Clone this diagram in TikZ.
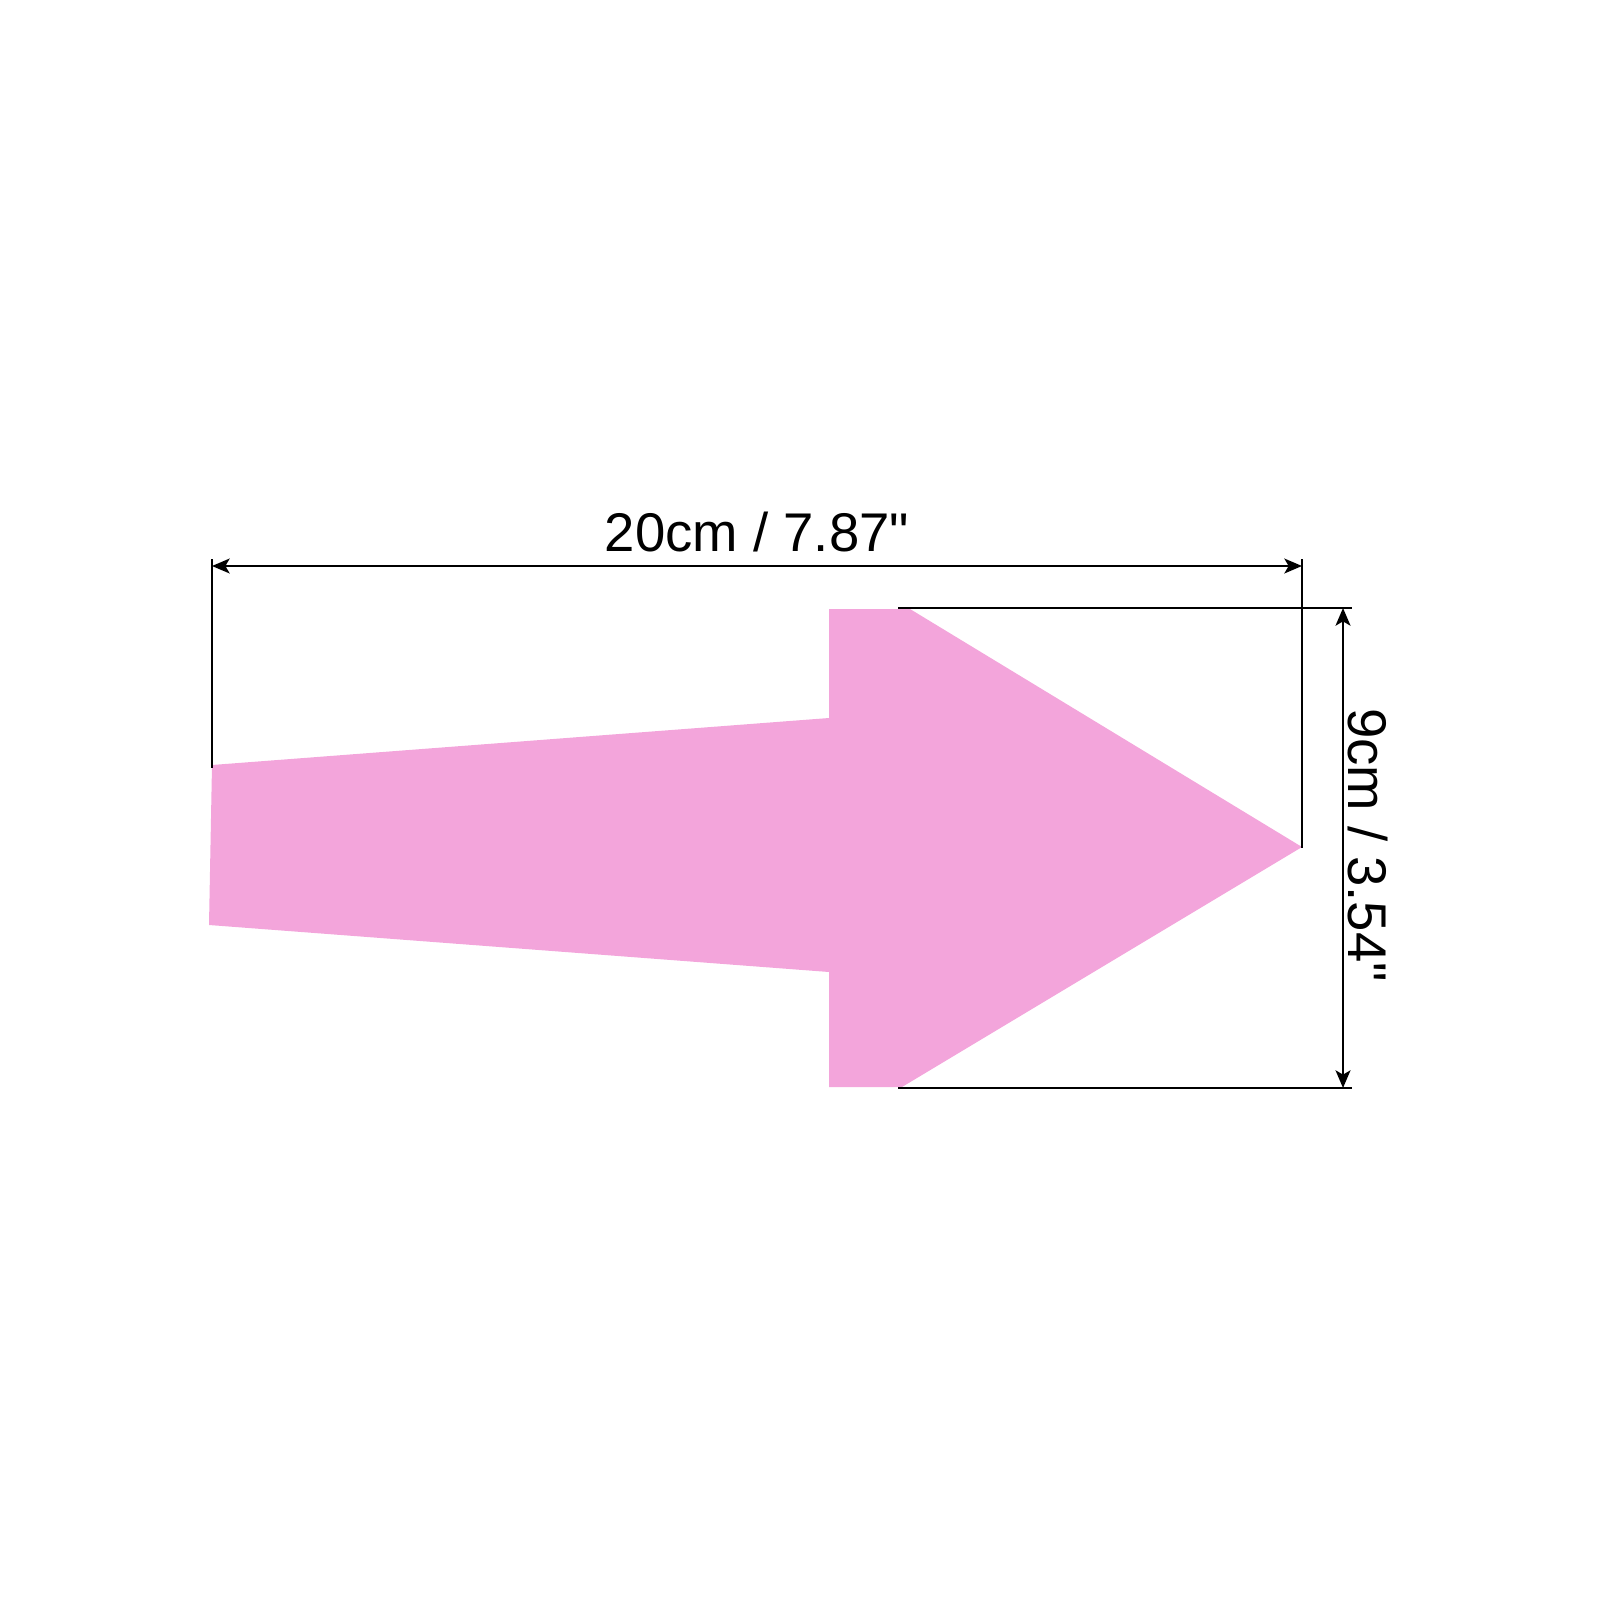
\documentclass[tikz,border=0pt]{standalone}
\usepackage{fontspec}
\setmainfont{Liberation Sans}[Ligatures=TeXOff]
\usetikzlibrary{arrows.meta}
\definecolor{stickerpink}{RGB}{243,165,219}

\begin{document}
\begin{tikzpicture}[
    x=0.01cm, y=-0.01cm, font=\fontsize{15.5}{18}\selectfont,
    dimline/.style={line width=0.75pt, {Stealth[length=5pt,width=4.2pt,inset=1.2pt]}-{Stealth[length=5pt,width=4.2pt,inset=1.2pt]}},
    extline/.style={line width=0.75pt}]

    \useasboundingbox (0,0) rectangle (1600,1600);

    % sticker
    \fill[stickerpink] (212,765) -- (829,718) -- (829,609) -- (910,609)
      -- (1302,847) -- (902,1087) -- (829,1087) -- (829,972)
      -- (209,925) -- cycle;

    % extension lines
    \coordinate (lt) at (212,559);
    \coordinate (lb) at (212,768);
    \coordinate (rt) at (1302,559);
    \coordinate (rb) at (1302,848);
    \coordinate (tl) at (898,608);
    \coordinate (tr) at (1352,608);
    \coordinate (bl) at (898,1088);
    \coordinate (br) at (1352,1088);

    \draw[extline] (lt) to (lb);
    \draw[extline] (rt) to (rb);
    \draw[extline] (tl) to (tr);
    \draw[extline] (bl) to (br);

    % dimensions
    \coordinate (wl) at (212,566);
    \coordinate (wr) at (1302,566);
    \coordinate (ht) at (1343,608);
    \coordinate (hb) at (1343,1088);

    \draw[dimline] (wl) to (wr);
    \draw[dimline] (ht) to (hb);

    \node[anchor=base] (width) at (757,551) {20cm / 7.87"};
    \node[anchor=base, rotate=-90] (height) at (1348,845) {9cm / 3.54"};
  \end{tikzpicture}
\end{document}
